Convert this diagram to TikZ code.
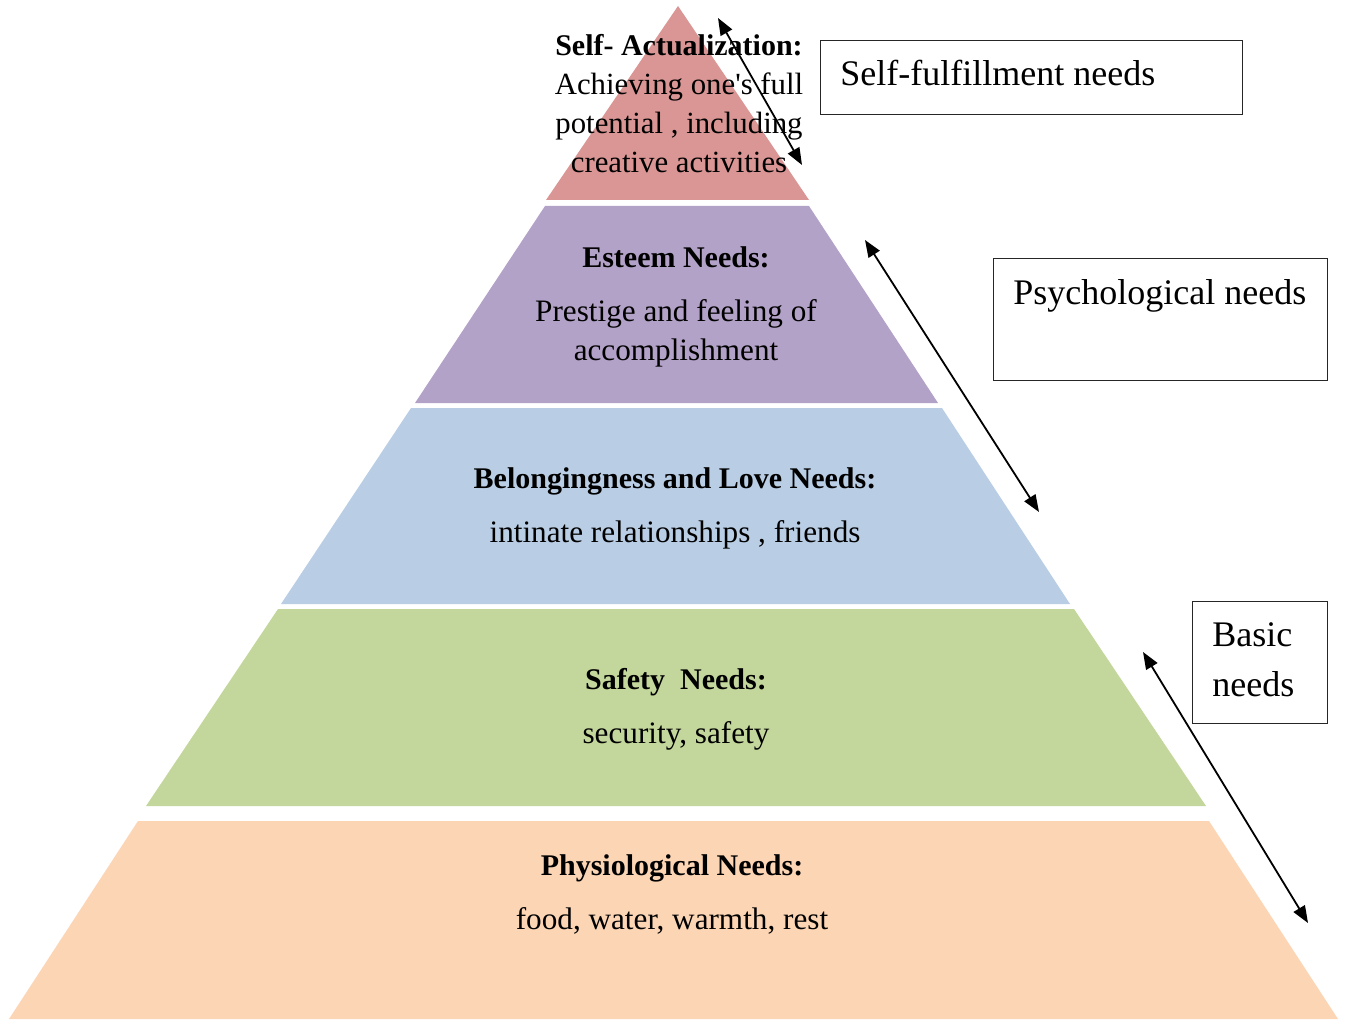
\documentclass[tikz,border=0pt]{standalone}
\usepackage{fontspec}
\setmainfont{Liberation Serif}
\usetikzlibrary{arrows.meta}
\definecolor{tierTop}{HTML}{D99694}
\definecolor{tierEsteem}{HTML}{B3A2C7}
\definecolor{tierLove}{HTML}{B9CDE5}
\definecolor{tierSafety}{HTML}{C3D69B}
\definecolor{tierBody}{HTML}{FCD5B5}
\newcommand{\tierhead}[1]{{\fontsize{15}{19.5}\selectfont\bfseries #1}}
\begin{document}
\begin{tikzpicture}[x=0.5pt,y=-0.5pt,
  tiertext/.style={align=center, inner sep=0pt, font=\fontsize{15.6}{19.5}\selectfont},
  groupbox/.style={draw=black!85, line width=0.6pt, inner sep=0pt, anchor=north west},
  grouptext/.style={anchor=north west, inner sep=0pt, align=left, font=\fontsize{18}{25}\selectfont},
  span/.style={{Triangle[length=8.5pt,width=6.5pt]}-{Triangle[length=8.5pt,width=6.5pt]}, line width=0.9pt}
]
\useasboundingbox (0,0) rectangle (1348,1021);

% pyramid tiers
\fill[tierTop]    (678,6) -- (809,200) -- (546,200) -- cycle;
\fill[tierEsteem] (545,206) -- (809,206) -- (938,403) -- (415,403) -- cycle;
\fill[tierLove]   (411,408) -- (942,408) -- (1070,604) -- (281,604) -- cycle;
\fill[tierSafety] (278,609) -- (1074,609) -- (1206,806) -- (146,806) -- cycle;
\fill[tierBody]   (138,821) -- (1209,821) -- (1338,1019) -- (9,1019) -- cycle;

% tier labels
\node[tiertext, font=\fontsize{15.4}{19.5}\selectfont] (selfact) at (679,104)
  {\tierhead{Self- Actualization:}\\Achieving one\textquotesingle s full\\potential , including\\creative activities};
\node[tiertext] (esteem) at (676,306.5)
  {\tierhead{Esteem Needs:}\\[7.5pt]Prestige and feeling of\\accomplishment};
\node[tiertext] (love) at (675,508)
  {\tierhead{Belongingness and Love Needs:}\\[7.5pt]intinate relationships , friends};
\node[tiertext] (safety) at (676,709)
  {\tierhead{Safety\ \ Needs:}\\[7.5pt]security, safety};
\node[tiertext] (physio) at (672,894)
  {\tierhead{Physiological Needs:}\\[7.5pt]food, water, warmth, rest};

% group boxes
\node[groupbox, minimum width=211pt, minimum height=37pt] (fulfil) at (820,40) {};
\node[grouptext] (fulfiltxt) at ([xshift=10pt,yshift=-10pt]fulfil.north west) {Self-fulfillment needs};
\node[groupbox, minimum width=167pt, minimum height=61pt] (psych) at (993,258) {};
\node[grouptext] (psychtxt) at ([xshift=10pt,yshift=-10.5pt]psych.north west) {Psychological needs};
\node[groupbox, minimum width=67.5pt, minimum height=61pt] (basic) at (1192,601) {};
\node[grouptext] (basictxt) at ([xshift=10pt,yshift=-10.5pt]basic.north west) {Basic\\needs};

% span arrows
\coordinate (s1a) at (718,18);   \coordinate (s1b) at (802,165);
\coordinate (s2a) at (865,240);  \coordinate (s2b) at (1039,512);
\coordinate (s3a) at (1143,652); \coordinate (s3b) at (1308,923);
\draw[span] (s1a) -- (s1b);
\draw[span] (s2a) -- (s2b);
\draw[span] (s3a) -- (s3b);
\end{tikzpicture}
\end{document}
